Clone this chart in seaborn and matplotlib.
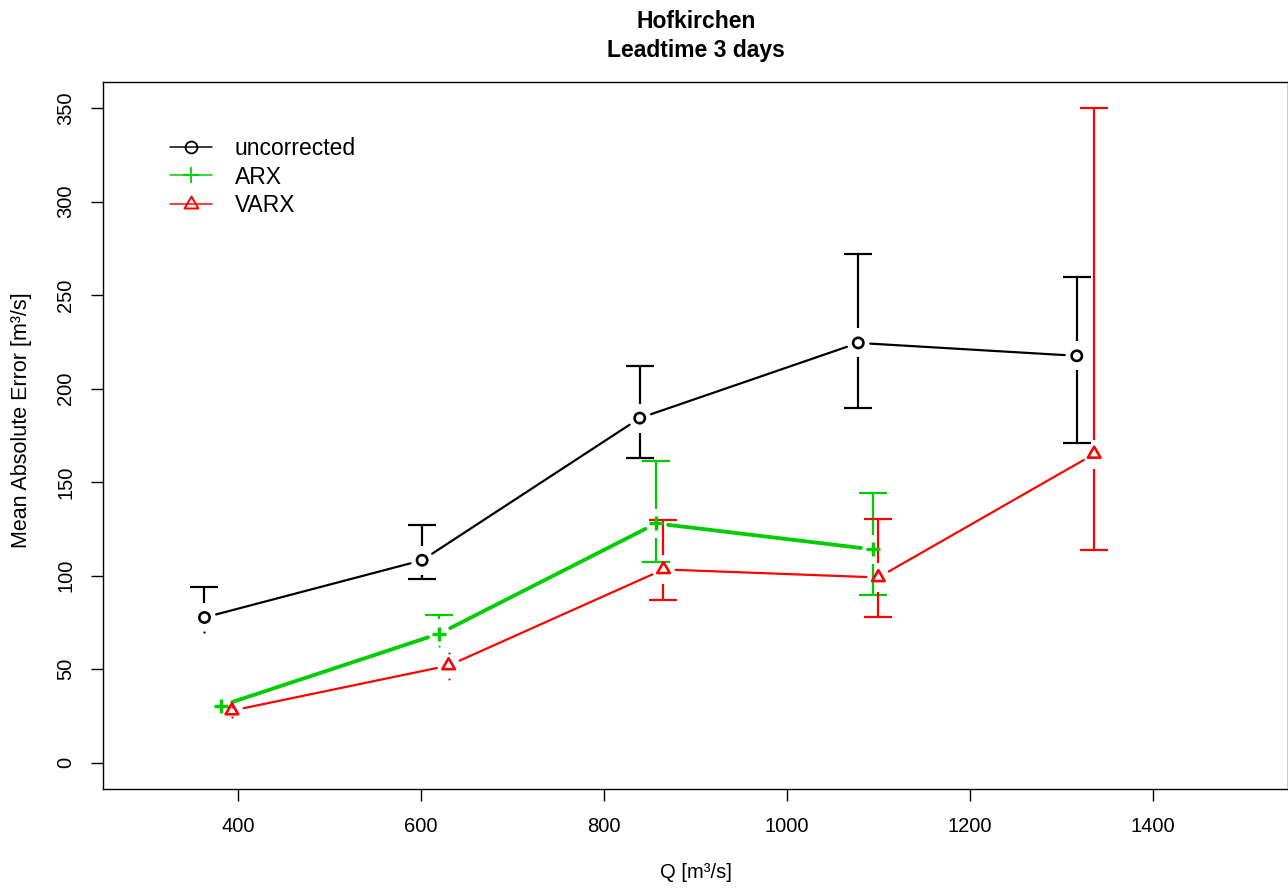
import numpy as np
import pandas as pd
import matplotlib
matplotlib.use("Agg")
import matplotlib.pyplot as plt
from matplotlib.lines import Line2D
from matplotlib.path import Path
import seaborn as sns

# ---- data ----
q_unc = [363, 601, 839, 1078, 1317]
mae_unc = [77.7, 108.3, 184.3, 224.5, 217.6]
lo_unc = [70.2, 98.1, 162.9, 189.7, 171.0]
hi_unc = [93.8, 127.0, 212.2, 272.2, 259.9]

q_arx = [381, 620, 857, 1094]
mae_arx = [30.5, 69.1, 128.0, 114.1]
lo_arx = [28.0, 62.2, 107.2, 89.5]
hi_arx = [33.0, 78.8, 161.3, 144.2]

q_varx = [393, 630, 865, 1100, 1336]
mae_varx = [27.9, 52.0, 103.4, 99.1, 165.1]
lo_varx = [24.5, 44.9, 86.8, 77.7, 113.6]
hi_varx = [30.0, 58.8, 129.7, 130.2, 350.0]

series_names = ["uncorrected", "ARX", "VARX"]
x_ticks = [400, 600, 800, 1000, 1200, 1400]
y_ticks = [0, 50, 100, 150, 200, 250, 300, 350]

GREEN = "#00CD00"
RED = "#FF0000"
BLACK = "#000000"

sns.set_theme(style="white")
plt.rcParams['font.family'] = ['Liberation Sans', 'DejaVu Sans']
plt.rcParams['text.color'] = 'black'
plt.rcParams['axes.labelcolor'] = 'black'
plt.rcParams['xtick.color'] = 'black'
plt.rcParams['ytick.color'] = 'black'

W, H = 1288, 890
fig = plt.figure(figsize=(W / 100, H / 100), dpi=100)
ax = fig.add_axes([103 / W, 1 - 789 / H, (1288 - 103) / W, (789 - 82) / H])
ax.set_xlim(252, 1548)
ax.set_ylim(-14, 364)

tri = Path([(-1.0, -0.577), (1.0, -0.577), (0.0, 1.155), (-1.0, -0.577)],
           [Path.MOVETO, Path.LINETO, Path.LINETO, Path.CLOSEPOLY])

PX = 72 / 100  # points per pixel

def to_px(x, y):
    return ax.transData.transform(np.column_stack([x, y]))

def to_data(p):
    return ax.transData.inverted().transform(np.atleast_2d(p))

def gapped_line(xs, ys, gap, color, lw):
    pts = to_px(xs, ys)
    rows = []
    for i, (p0, p1) in enumerate(zip(pts[:-1], pts[1:])):
        d = p1 - p0
        L = np.hypot(*d)
        if L <= 2 * gap:
            continue
        u = d / L
        seg = to_data(np.vstack([p0 + u * gap, p1 - u * gap]))
        for k in range(2):
            rows.append({"x": seg[k, 0], "y": seg[k, 1], "seg": i, "o": k})
    df = pd.DataFrame(rows)
    sns.lineplot(data=df, x="x", y="y", units="seg", estimator=None, sort=False,
                 color=color, linewidth=lw * PX, ax=ax, legend=False)

def errbars(xs, ys, lo, hi, gap, color, lw, cap=14):
    pts = to_px(xs, ys)
    for (px, py), l, h in zip(pts, lo, hi):
        for end in (l, h):
            pe = to_px([0], [end])[0][1]
            sgn = 1 if pe > py else -1
            if abs(pe - py) <= gap:
                dot = to_data([px, pe])[0]
                ax.plot([dot[0]], [dot[1]], marker="o", ms=2.2 * PX,
                        color=color, mew=0, zorder=3)
                continue
            a = to_data([px, py + sgn * gap])[0]
            b = to_data([px, pe])[0]
            ax.plot([a[0], b[0]], [a[1], b[1]], color=color, lw=lw * PX,
                    solid_capstyle="butt", zorder=3)
            c0 = to_data([px - cap, pe])[0]
            c1 = to_data([px + cap, pe])[0]
            ax.plot([c0[0], c1[0]], [c0[1], c1[1]], color=color, lw=lw * PX,
                    solid_capstyle="butt", zorder=3)

# lines with gaps (R type="b")
gapped_line(q_unc, mae_unc, 12, BLACK, 2.2)
gapped_line(q_arx, mae_arx, 12, GREEN, 3.8)
gapped_line(q_varx, mae_varx, 12, RED, 2.2)

# error bars
errbars(q_unc, mae_unc, lo_unc, hi_unc, 14.5, BLACK, 2.2)
errbars(q_arx, mae_arx, lo_arx, hi_arx, 14.5, GREEN, 2.2)
errbars(q_varx, mae_varx, lo_varx, hi_varx, 14.5, RED, 2.2)

# markers
sns.scatterplot(x=q_unc, y=mae_unc, marker="o", s=55, facecolor="none",
                edgecolor=BLACK, linewidth=2.6 * PX, ax=ax, zorder=4, legend=False)
sns.scatterplot(x=q_arx, y=mae_arx, marker="+", s=115, color=GREEN,
                linewidth=3.4 * PX, ax=ax, zorder=4, legend=False)
sns.scatterplot(x=q_varx, y=mae_varx, marker=tri, s=110, facecolor="none",
                edgecolor=RED, linewidth=2.6 * PX, ax=ax, zorder=4, legend=False)

# axes styling
for sp in ax.spines.values():
    sp.set_color("black")
    sp.set_linewidth(1.0)
ax.set_xticks(x_ticks)
ax.set_yticks(y_ticks)
ax.set_xticklabels([str(v) for v in x_ticks])
ax.set_yticklabels([str(v) for v in y_ticks], rotation=90, va="center")
ax.tick_params(direction="out", length=12 * PX, width=1.0, pad=11.5,
               labelsize=14.5, colors="black", bottom=True, left=True)
ax.set_xlabel("")
ax.set_ylabel("")
ax.grid(False)

fig.text(696 / W, 1 - 873 / H, "Q [m³/s]", ha="center", va="center", fontsize=14.5)
fig.text(22 / W, 1 - 420 / H, "Mean Absolute Error [m³/s]", ha="center",
         va="center", rotation=90, fontsize=15.5)
fig.text(696 / W, 1 - 22 / H, "Hofkirchen", ha="center", va="center",
         fontsize=16.5, fontweight="bold")
fig.text(696 / W, 1 - 50 / H, "Leadtime 3 days", ha="center", va="center",
         fontsize=16.5, fontweight="bold")

# legend
handles = [
    Line2D([], [], color=BLACK, lw=1.5 * PX, marker="o", ms=8.5,
           mfc="none", mec=BLACK, mew=1.3),
    Line2D([], [], color=GREEN, lw=1.5 * PX, marker="+", ms=12,
           mec=GREEN, mew=1.3),
    Line2D([], [], color=RED, lw=1.5 * PX, marker=tri, ms=11.5,
           mfc="none", mec=RED, mew=1.4),
]
leg = ax.legend(handles, series_names, loc="upper left", frameon=False,
                fontsize=16.5, handlelength=1.83, handletextpad=1.0,
                labelspacing=0.24, borderpad=0, borderaxespad=0,
                bbox_to_anchor=(170 / W, 1 - 137 / H),
                bbox_transform=fig.transFigure)

fig.savefig("out.png", dpi=100)
